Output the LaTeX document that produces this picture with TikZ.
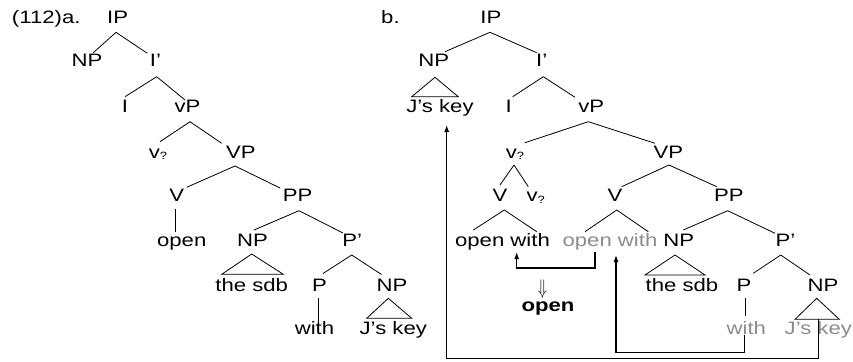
\documentclass[tikz,border=0pt]{standalone}
\usepackage{fontspec}
\setmainfont{Liberation Sans}[FakeStretch=1.23]
\usepackage{graphicx}
\usetikzlibrary{calc,arrows.meta}
\definecolor{gtext}{RGB}{140,140,140}
\newcommand\vq{v\raisebox{-1.5pt}{\fontsize{10.5}{12}\selectfont ?}}
\begin{document}
\begin{tikzpicture}[x=1pt,y=-1pt,
  lbl/.style={anchor=base, inner sep=0pt, font=\fontsize{18}{21}\selectfont},
  gl/.style={lbl, text=gtext},
  tree/.style={line width=0.8pt, line join=miter},
  mv/.style={line width=1.1pt, -{Latex[length=7pt,width=5pt]}}]
\useasboundingbox (0,0) rectangle (853,361);

% ---------- tree (a) ----------
\node[lbl, anchor=base west] (alab) at (11.8,24) {(112)a.};
\node[lbl] (aIP) at (117.7,24) {IP};
\node[lbl] (aNP) at (87,66.7) {NP};
\node[lbl] (aIb) at (155.5,66.7) {I’};
\node[lbl] (aI) at (125,112) {I};
\node[lbl] (avP) at (187.5,112) {vP};
\node[lbl] (avq) at (158,158.3) {\vq};
\node[lbl] (aVP) at (240.8,158.3) {VP};
\node[lbl] (aV) at (176.7,201.7) {V};
\node[lbl] (aPP) at (297.7,201.7) {PP};
\node[lbl] (aopen) at (181.7,246.7) {open};
\node[lbl] (aNPb) at (252.5,246.7) {NP};
\node[lbl] (aPb) at (352.3,246.7) {P’};
\node[lbl] (asdb) at (251.7,291) {the sdb};
\node[lbl] (aP) at (319.5,291) {P};
\node[lbl] (aNPc) at (392,291) {NP};
\node[lbl] (awith) at (314.5,334.3) {with};
\node[lbl] (ajk) at (393.3,334.3) {J’s key};

\draw[tree] ($(aIP.base)+(-1.7,8.3)$) -- ($(aNP.base)+(6.3,-14)$);
\draw[tree] ($(aIP.base)+(-1.7,8.3)$) -- ($(aIb.base)+(-8.2,-13.4)$);
\draw[tree] ($(aIb.base)+(1.2,10)$) -- ($(aI.base)+(0,-15.3)$);
\draw[tree] ($(aIb.base)+(1.2,10)$) -- ($(avP.base)+(-2.5,-12)$);
\draw[tree] ($(avP.base)+(2.5,9.7)$) -- ($(avq.base)+(2,-16.6)$);
\draw[tree] ($(avP.base)+(2.5,9.7)$) -- ($(aVP.base)+(-19.1,-15)$);
\draw[tree] ($(aVP.base)+(-5.8,7.7)$) -- ($(aV.base)+(10,-14.4)$);
\draw[tree] ($(aVP.base)+(-5.8,7.7)$) -- ($(aPP.base)+(-17.7,-13.7)$);
\draw[tree] ($(aV.base)+(-1,7.3)$) -- ($(aopen.base)+(-6,-15)$);
\draw[tree] ($(aPP.base)+(1.3,9)$) -- ($(aNPb.base)+(1.5,-16.7)$);
\draw[tree] ($(aPP.base)+(1.3,9)$) -- ($(aPb.base)+(-9.3,-13.7)$);
\draw[tree] ($(aNPb.base)+(-0.8,7.3)$) -- ($(asdb.base)+(-30,-16.7)$) -- ($(asdb.base)+(31.6,-16.7)$) -- cycle;
\draw[tree] ($(aPb.base)+(-0.6,8.3)$) -- ($(aP.base)+(3.5,-17.5)$);
\draw[tree] ($(aPb.base)+(-0.6,8.3)$) -- ($(aNPc.base)+(-10.5,-16.5)$);
\draw[tree] ($(aP.base)+(-1.2,7)$) -- ($(awith.base)+(3.8,-1)$);
\draw[tree] ($(aNPc.base)+(-3.7,7.3)$) -- ($(ajk.base)+(-26.6,-16)$) -- ($(ajk.base)+(18.4,-16)$) -- cycle;

% ---------- tree (b) ----------
\node[lbl, anchor=base west] (blab) at (381,24) {b.};
\node[lbl] (bIP) at (490.8,24) {IP};
\node[lbl] (bNP) at (433.8,66.7) {NP};
\node[lbl] (bIb) at (541.7,66.7) {I’};
\node[lbl] (bjk) at (440,112) {J’s key};
\node[lbl] (bI) at (508.7,112) {I};
\node[lbl] (bvP) at (591.3,112) {vP};
\node[lbl] (bvq) at (515,158.3) {\vq};
\node[lbl] (bVP) at (668.3,158.3) {VP};
\node[lbl] (bV) at (500,201.7) {V};
\node[lbl] (bvqb) at (535.7,201.7) {\vq};
\node[lbl] (bVb) at (615,201.7) {V};
\node[lbl] (bPP) at (728.8,201.7) {PP};
\node[lbl] (bow) at (502.5,246.7) {open with};
\node[gl] (bowg) at (610,246.7) {open with};
\node[lbl] (bNPb) at (678.8,246.7) {NP};
\node[lbl] (bPb) at (785.5,246.7) {P’};
\node[lbl] (bsdb) at (682,291) {the sdb};
\node[lbl] (bP) at (744,291) {P};
\node[lbl] (bNPc) at (823,291) {NP};
\node[gl] (bwith) at (746.3,334.3) {with};
\node[gl] (bjkb) at (818.3,334.3) {J’s key};
\node[inner sep=0pt] (bdar) at (542.5,289.2) {\scalebox{1.5}[2.1]{$\Downarrow$}};
\node[lbl] (bopen) at (548,311.7) {\bfseries open};

\draw[tree] ($(bIP.base)+(-0.8,8.3)$) -- ($(bNP.base)+(11.2,-15)$);
\draw[tree] ($(bIP.base)+(-0.8,8.3)$) -- ($(bIb.base)+(-5,-14)$);
\draw[tree] ($(bNP.base)+(1.2,10.6)$) -- ($(bjk.base)+(-28.3,-15.3)$) -- ($(bjk.base)+(18.3,-15.3)$) -- cycle;
\draw[tree] ($(bIb.base)+(1.6,10)$) -- ($(bI.base)+(4,-15.3)$);
\draw[tree] ($(bIb.base)+(1.6,10)$) -- ($(bvP.base)+(-16.3,-14.7)$);
\draw[tree] ($(bvP.base)+(-3,9.7)$) -- ($(bvq.base)+(10,-15.6)$);
\draw[tree] ($(bvP.base)+(-3,9.7)$) -- ($(bVP.base)+(-13.3,-15)$);
\draw[tree] ($(bvq.base)+(-1,6.7)$) -- ($(bV.base)+(0,-16.7)$);
\draw[tree] ($(bvq.base)+(-1,6.7)$) -- ($(bvqb.base)+(-7.4,-15)$);
\draw[tree] ($(bVP.base)+(0.7,6.7)$) -- ($(bVb.base)+(6.7,-15)$);
\draw[tree] ($(bVP.base)+(0.7,6.7)$) -- ($(bPP.base)+(-12.1,-15)$);
\draw[tree] ($(bow.base)+(-29.2,-16.7)$) -- ($(bV.base)+(4.3,8.3)$) -- ($(bow.base)+(34.2,-15)$);
\draw[tree] ($(bowg.base)+(-25,-15)$) -- ($(bVb.base)+(1.7,8.3)$) -- ($(bowg.base)+(38.3,-15)$);
\draw[tree] ($(bPP.base)+(-1.1,9)$) -- ($(bNPb.base)+(4.5,-16.7)$);
\draw[tree] ($(bPP.base)+(-1.1,9)$) -- ($(bPb.base)+(-10.5,-13.4)$);
\draw[tree] ($(bNPb.base)+(-3.8,8.3)$) -- ($(bsdb.base)+(-37,-16)$) -- ($(bsdb.base)+(23,-16)$) -- cycle;
\draw[tree] ($(bPb.base)+(-4.8,8.3)$) -- ($(bP.base)+(9.3,-17.7)$);
\draw[tree] ($(bPb.base)+(-4.8,8.3)$) -- ($(bNPc.base)+(-13,-16)$);
\draw[tree] ($(bP.base)+(1.7,7.3)$) -- ($(bwith.base)+(-0.6,-18.3)$);
\draw[tree] ($(bNPc.base)+(-6.3,7.3)$) -- ($(bjkb.base)+(-23.3,-15)$) -- ($(bjkb.base)+(21,-15)$) -- cycle;

% ---------- movement arrows ----------
\coordinate (lvA) at (0,268);
\coordinate (lvB) at (0,352.3);
\coordinate (lvC) at (0,358.3);
\coordinate (sA) at ($(bowg.base)+(-15,5.3)$);
\coordinate (sB) at ($(bwith.base)+(-2,0.7)$);
\coordinate (sC) at ($(bjkb.base)+(0,-15)$);
\draw[mv] (sA) -- (sA |- lvA) -| ($(bow.base)+(14.2,5.3)$);
\draw[mv] (sB) -- (sB |- lvB) -| ($(bowg.base)+(6,8.3)$);
\draw[mv] (sC) -- (sC |- lvC) -| ($(bjk.base)+(6.7,13)$);
\end{tikzpicture}
\end{document}
